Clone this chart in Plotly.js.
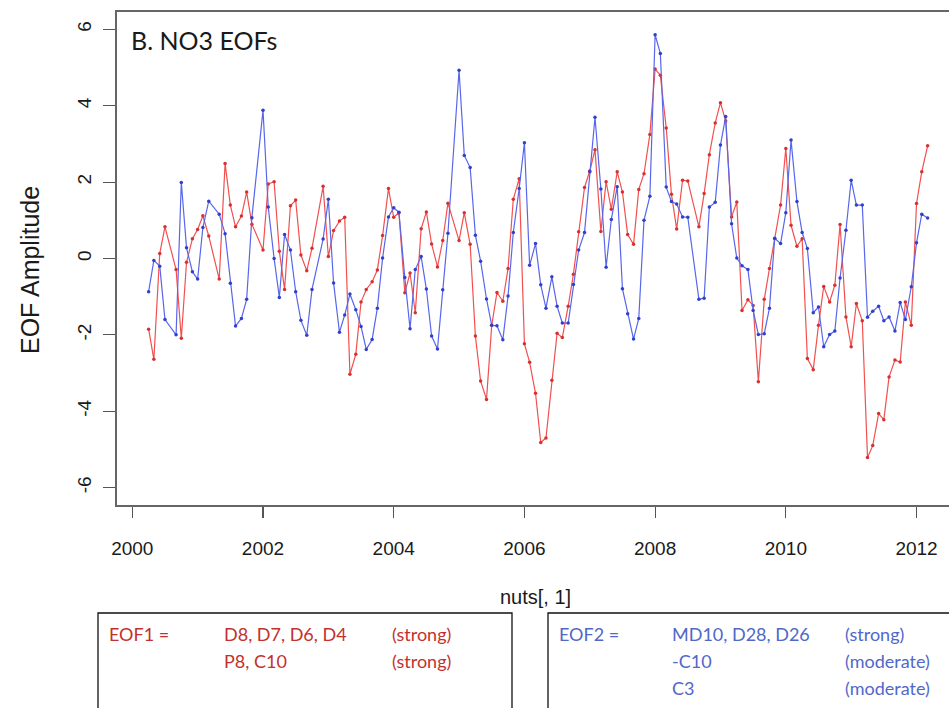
<!DOCTYPE html>
<html>
<head>
<meta charset="utf-8">
<script src="https://cdn.plot.ly/plotly-3.0.1.min.js"></script>
<style>
  html, body { margin: 0; padding: 0; background: #ffffff; overflow: hidden; }
  #chart { width: 949px; height: 708px; }
</style>
</head>
<body>
<div id="chart"></div>
<script>
// Monthly sampling times (decimal years), April 2000 - March 2012
const months = [
  2000.25, 2000.33, 2000.42, 2000.50, 2000.58, 2000.67, 2000.75, 2000.83, 2000.92,
  2001.00, 2001.08, 2001.17, 2001.25, 2001.33, 2001.42, 2001.50, 2001.58, 2001.67, 2001.75, 2001.83, 2001.92,
  2002.00, 2002.08, 2002.17, 2002.25, 2002.33, 2002.42, 2002.50, 2002.58, 2002.67, 2002.75, 2002.83, 2002.92,
  2003.00, 2003.08, 2003.17, 2003.25, 2003.33, 2003.42, 2003.50, 2003.58, 2003.67, 2003.75, 2003.83, 2003.92,
  2004.00, 2004.08, 2004.17, 2004.25, 2004.33, 2004.42, 2004.50, 2004.58, 2004.67, 2004.75, 2004.83, 2004.92,
  2005.00, 2005.08, 2005.17, 2005.25, 2005.33, 2005.42, 2005.50, 2005.58, 2005.67, 2005.75, 2005.83, 2005.92,
  2006.00, 2006.08, 2006.17, 2006.25, 2006.33, 2006.42, 2006.50, 2006.58, 2006.67, 2006.75, 2006.83, 2006.92,
  2007.00, 2007.08, 2007.17, 2007.25, 2007.33, 2007.42, 2007.50, 2007.58, 2007.67, 2007.75, 2007.83, 2007.92,
  2008.00, 2008.08, 2008.17, 2008.25, 2008.33, 2008.42, 2008.50, 2008.58, 2008.67, 2008.75, 2008.83, 2008.92,
  2009.00, 2009.08, 2009.17, 2009.25, 2009.33, 2009.42, 2009.50, 2009.58, 2009.67, 2009.75, 2009.83, 2009.92,
  2010.00, 2010.08, 2010.17, 2010.25, 2010.33, 2010.42, 2010.50, 2010.58, 2010.67, 2010.75, 2010.83, 2010.92,
  2011.00, 2011.08, 2011.17, 2011.25, 2011.33, 2011.42, 2011.50, 2011.58, 2011.67, 2011.75, 2011.83, 2011.92,
  2012.00, 2012.08, 2012.17
];

// EOF 1 amplitude (red); null = month not sampled
const eof1 = [
  -1.85, -2.64, 0.13, 0.83, null, -0.29, -2.09, -0.10, 0.52,
  0.76, 1.12, 0.59, null, -0.54, 2.49, 1.40, 0.83, 1.11, 1.74, 0.90, null,
  0.22, 1.95, 2.01, 0.19, -0.81, 1.38, 1.53, 0.09, -0.32, 0.27, null, 1.89,
  0.05, 0.73, 0.98, 1.08, -3.03, -2.51, -1.14, -0.81, -0.61, -0.30, 0.60, 1.83,
  1.08, 1.20, -0.90, -0.38, -1.42, 0.78, 1.22, 0.38, -0.22, 0.47, 1.45, null,
  0.47, 1.20, 0.37, -2.03, -3.21, -3.69, -1.75, -0.89, -1.12, -0.26, 1.55, 2.09,
  -2.23, -2.72, -3.53, -4.82, -4.70, -3.19, -1.96, -2.07, -1.25, -0.41, 0.70, 1.86,
  2.29, 2.85, 0.71, 2.01, 1.29, 2.27, 1.74, 0.63, 0.37, 1.81, 2.22, 3.25,
  4.96, 4.80, 3.42, 1.68, 0.77, 2.05, 2.03, null, 0.83, 1.70, 2.72, 3.55,
  4.08, 3.60, 1.09, 1.48, -1.36, -1.08, -1.23, -3.23, -1.07, -0.26, 0.52, 1.40,
  2.88, 0.87, 0.32, 0.52, -2.62, -2.91, -1.75, -0.73, -1.14, -0.70, 0.89, -1.53,
  -2.31, -1.18, -1.63, -5.21, -4.90, -4.06, -4.22, -3.10, -2.66, -2.71, -1.14, -1.75,
  1.44, 2.27, 2.95
];

// EOF 2 amplitude (blue)
const eof2 = [
  -0.87, -0.05, -0.20, -1.60, null, -2.00, 1.99, 0.28, -0.35,
  -0.54, 0.81, 1.50, null, 1.16, 0.65, -0.65, -1.77, -1.57, -1.07, 1.07, null,
  3.88, 1.35, 0.00, -1.02, 0.63, 0.22, -0.87, -1.62, -2.01, -0.81, null, 0.51,
  1.55, -0.64, -1.93, -1.48, -0.93, -1.34, -1.78, -2.38, -2.12, -1.30, 0.01, 1.09,
  1.33, 1.21, -0.50, -1.84, -0.29, 0.05, -0.80, -2.03, -2.37, -0.82, 0.66, null,
  4.93, 2.70, 2.38, 0.61, -0.07, -1.06, -1.75, -1.76, -2.13, -0.98, 0.68, 1.83,
  3.03, -0.18, 0.39, -0.69, -1.30, -0.48, -1.25, -1.69, -1.69, -0.68, 0.22, 0.68,
  2.27, 3.70, 1.82, -0.23, 1.02, 1.88, -0.79, -1.45, -2.11, -1.57, 1.00, 1.63,
  5.86, 5.37, 1.87, 1.49, 1.43, 1.09, 1.08, null, -1.07, -1.04, 1.35, 1.47,
  2.97, 3.72, 0.91, 0.01, -0.19, -0.29, -1.36, -1.99, -1.97, -1.30, 0.53, 0.39,
  1.20, 3.10, 1.49, 0.68, 0.26, -1.42, -1.27, -2.31, -1.99, -1.90, -0.51, 0.74,
  2.05, 1.40, 1.40, -1.54, -1.38, -1.25, -1.63, -1.53, -1.90, -1.15, -1.60, -0.74,
  0.41, 1.16, 1.06
];

const yearTicks = [2000, 2002, 2004, 2006, 2008, 2010, 2012];
const ampTicks = [-6, -4, -2, 0, 2, 4, 6];

// Loadings legend rows: [loading, strength]
const eof1Rows = [["D8, D7, D6, D4", "(strong)"], ["P8, C10", "(strong)"]];
const eof2Rows = [["MD10, D28, D26", "(strong)"], ["-C10", "(moderate)"], ["C3", "(moderate)"]];

const W = 949, H = 708;
const M = { l: 117, r: 0, t: 12, b: 203 };
const plotW = W - M.l - M.r, plotH = H - M.t - M.b;
const px = x => (x - M.l) / plotW;          // page pixel -> paper x
const py = y => (M.t + plotH - y) / plotH;  // page pixel -> paper y

const RED_LINE = '#f25050', RED_PT = '#d83030';
const BLUE_LINE = '#5866ec', BLUE_PT = '#3040cc';
const RED_TXT = '#c4302e', BLUE_TXT = '#5068c8';

const traces = [
  {
    x: months, y: eof1, type: 'scatter', mode: 'lines+markers', connectgaps: true,
    line: { color: RED_LINE, width: 1.2 },
    marker: { color: RED_PT, size: 3.5 }, name: 'EOF1', hoverinfo: 'x+y'
  },
  {
    x: months, y: eof2, type: 'scatter', mode: 'lines+markers', connectgaps: true,
    line: { color: BLUE_LINE, width: 1.2 },
    marker: { color: BLUE_PT, size: 3.5 }, name: 'EOF2', hoverinfo: 'x+y'
  }
];

const SANS = '"Liberation Sans", Arial, sans-serif';
const txtFont = (c, s) => ({ family: 'Lato, "Noto Sans", sans-serif', size: s, color: c });

const annotations = [
  { text: 'B. NO3 EOFs', x: px(129), y: py(40), xref: 'paper', yref: 'paper',
    xanchor: 'left', yanchor: 'middle', showarrow: false, font: txtFont('#1a1a1a', 25) },
  { text: 'EOF Amplitude', x: px(30), y: py(270), xref: 'paper', yref: 'paper',
    xanchor: 'center', yanchor: 'middle', textangle: -90, showarrow: false,
    font: { family: SANS, size: 25, color: '#1a1a1a' } },
  { text: 'nuts[, 1]', x: px(535), y: py(597), xref: 'paper', yref: 'paper',
    xanchor: 'center', yanchor: 'middle', showarrow: false,
    font: { family: SANS, size: 20, color: '#1a1a1a' } },
  { text: 'EOF1 =', x: px(107), y: py(634), xref: 'paper', yref: 'paper',
    xanchor: 'left', yanchor: 'middle', showarrow: false, font: txtFont(RED_TXT, 18) },
  { text: 'EOF2 =', x: px(557), y: py(634), xref: 'paper', yref: 'paper',
    xanchor: 'left', yanchor: 'middle', showarrow: false, font: txtFont(BLUE_TXT, 18) }
];

eof1Rows.forEach((r, k) => {
  const y = py(634 + k * 27);
  annotations.push({ text: r[0], x: px(222), y, xref: 'paper', yref: 'paper', xanchor: 'left',
    yanchor: 'middle', showarrow: false, font: txtFont(RED_TXT, 18) });
  annotations.push({ text: r[1], x: px(390), y, xref: 'paper', yref: 'paper', xanchor: 'left',
    yanchor: 'middle', showarrow: false, font: txtFont(RED_TXT, 18) });
});
eof2Rows.forEach((r, k) => {
  const y = py(634 + k * 27);
  annotations.push({ text: r[0], x: px(670), y, xref: 'paper', yref: 'paper', xanchor: 'left',
    yanchor: 'middle', showarrow: false, font: txtFont(BLUE_TXT, 18) });
  annotations.push({ text: r[1], x: px(843), y, xref: 'paper', yref: 'paper', xanchor: 'left',
    yanchor: 'middle', showarrow: false, font: txtFont(BLUE_TXT, 18) });
});

const shapes = [
  { type: 'rect', xref: 'paper', yref: 'paper', x0: px(98), x1: px(512), y0: py(730), y1: py(613),
    line: { color: '#111111', width: 1.3 } },
  { type: 'rect', xref: 'paper', yref: 'paper', x0: px(548), x1: px(975), y0: py(730), y1: py(613),
    line: { color: '#111111', width: 1.3 } }
];

const layout = {
  width: W, height: H,
  margin: M,
  paper_bgcolor: '#ffffff', plot_bgcolor: '#ffffff',
  showlegend: false,
  xaxis: {
    range: [1999.766, 2012.497], tickmode: 'array', tickvals: yearTicks,
    ticktext: yearTicks.map(String), ticks: 'outside', ticklen: 11, tickcolor: '#555555',
    tickwidth: 1.2, showline: true, mirror: true, linecolor: '#666666', linewidth: 1.6,
    showgrid: false, zeroline: false, ticklabelstandoff: 15,
    tickfont: { family: SANS, size: 19, color: '#1a1a1a' }
  },
  yaxis: {
    range: [-6.455, 6.455], tickmode: 'array', tickvals: ampTicks,
    ticktext: ampTicks.map(String), ticks: 'outside', ticklen: 12, tickcolor: '#555555',
    tickwidth: 1.2, showline: true, mirror: false, linecolor: '#666666', linewidth: 1.6,
    showgrid: false, zeroline: false, tickangle: -90, ticklabelstandoff: 5,
    tickfont: { family: SANS, size: 19, color: '#1a1a1a' }
  },
  annotations, shapes
};

Plotly.newPlot('chart', traces, layout, { displayModeBar: false, staticPlot: true });
</script>
</body>
</html>
